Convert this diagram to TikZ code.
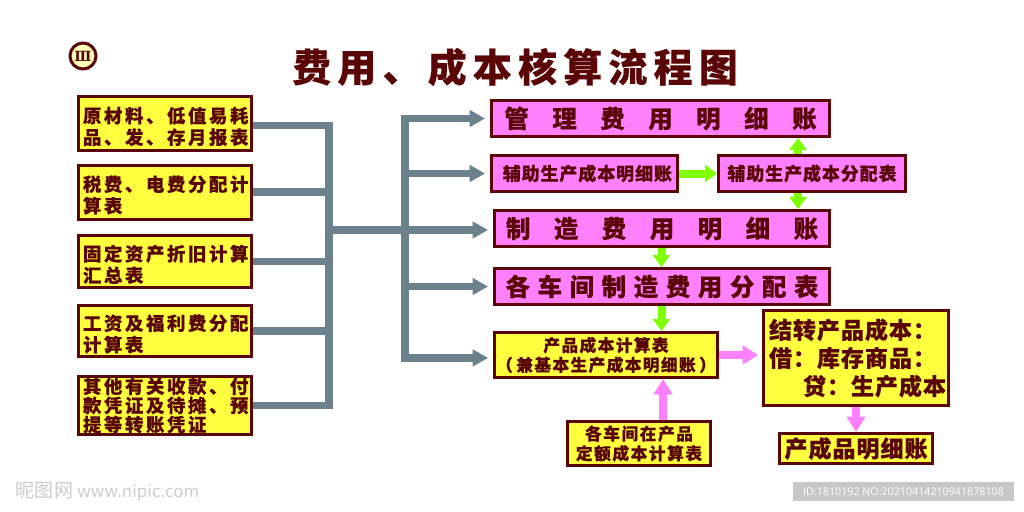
\documentclass[tikz,border=0pt]{standalone}
\usepackage{fontspec}
\usepackage{tikz}
\usetikzlibrary{arrows.meta}

\newfontfamily\cjk{Noto Sans CJK SC}
\newfontfamily\idfont{Open Sans}
\newfontfamily\badgefont{DejaVu Serif}
\newcommand{\cnfont}[3]{\cjk\bfseries\fontsize{#1pt}{#2pt}\selectfont\addfontfeature{LetterSpace=#3,FakeBold=0.25}}
\def\px{0.025cm}

\definecolor{boxline}{HTML}{5A0606}
\definecolor{boxyellow}{HTML}{FFFF40}
\definecolor{boxpink}{HTML}{FF80FF}
\definecolor{pipegray}{HTML}{6B818C}
\definecolor{arrowgreen}{HTML}{80FF00}

\tikzset{
    plainbox/.style={draw=boxline, line width=3*\px, inner sep=0pt, text=boxline},
    srcbox/.style={plainbox, fill=boxyellow, minimum width=173*\px, align=left, text width=164*\px, font=\cnfont{13.1}{15.3}{14}},
    acctbox/.style={plainbox, fill=boxpink, minimum height=36*\px, align=center},
    calcbox/.style={plainbox, fill=boxyellow, align=center},
    pipe/.style={draw=pipegray, line width=7.5*\px},
    pipearrow/.style={pipe, -{Triangle[width=11.5pt,length=11pt]}, shorten >=3.5pt},
    greenarrow/.style={draw=arrowgreen, line width=8*\px, -{Triangle[width=12pt,length=8.5pt]}},
    pinkarrow/.style={draw=boxpink, line width=8.5*\px, -{Triangle[width=13pt,length=11pt]}},
    lowtext/.style={execute at begin node={\rule{0pt}{15.5pt}}},
}

\begin{document}
\begin{tikzpicture}[x=\px, y=-\px]
    \useasboundingbox (0,0) rectangle (1024,512);

    % Title
    \node[circle, draw=boxline, line width=3*\px, fill=boxyellow!35, minimum size=26*\px, inner sep=0pt, text=boxline, font=\badgefont\bfseries\fontsize{10pt}{10pt}\selectfont] (badge) at (83,56) {Ⅲ};
    \node[text=boxline, font=\cnfont{27.7}{30}{16}] (title) at (515,67) {费用、成本核算流程图};

    % Source documents
    \node[srcbox, lowtext, minimum height=54*\px] (raw) at (165,123.5) {原材料、低值易耗\\品、发、存月报表};
    \node[srcbox, lowtext, minimum height=54*\px] (tax) at (165,192) {税费、电费分配计\\算表};
    \node[srcbox, lowtext, minimum height=52*\px] (asset) at (165,261.5) {固定资产折旧计算\\汇总表};
    \node[srcbox, lowtext, minimum height=51*\px] (wage) at (165,331) {工资及福利费分配\\计算表};
    \node[srcbox, minimum height=58*\px, font=\cnfont{13.1}{13.6}{14}] (other) at (165,405.5) {其他有关收款、付\\款凭证及待摊、预\\提等转账凭证};

    % Accounts
    \node[acctbox, minimum width=338*\px, font=\cnfont{17.4}{20}{96}] (mgmt) at (660.5,118.5) {管理费用明细账};
    \node[acctbox, minimum width=186*\px, font=\cnfont{12.8}{16}{5}] (auxa) at (584.5,173.5) {\hspace*{4pt}辅助生产成本明细账};
    \node[acctbox, minimum width=187*\px, font=\cnfont{12.8}{16}{5}] (auxb) at (812,173.5) {辅助生产成本分配表};
    \node[acctbox, minimum width=335*\px, font=\cnfont{17.4}{20}{96}] (mfg) at (662,228.5) {制造费用明细账};
    \node[acctbox, minimum width=335*\px, font=\cnfont{17.4}{20}{31}] (alloc) at (662,286.5) {各车间制造费用分配表};

    % Costing
    \node[calcbox, minimum width=223*\px, minimum height=45*\px, font=\cnfont{11.9}{14}{8}] (prod) at (606,355) {产品成本计算表\\（\hspace{2.5pt}兼基本生产成本明细账\hspace{2.5pt}）};
    \node[calcbox, minimum width=143*\px, minimum height=44*\px, font=\cnfont{11.9}{14}{9}] (norm) at (639,443.5) {各车间在产品\\定额成本计算表};
    \node[calcbox, minimum width=185*\px, minimum height=95*\px, align=left, text width=174*\px, font=\cnfont{16.4}{20}{4}] (carry) at (856,358) {结转产品成本：\\借：库存商品：\\\hspace*{0.85cm}贷：生产成本};
    \node[calcbox, minimum width=153*\px, minimum height=30*\px, font=\cnfont{16.4}{20}{4}] (done) at (856,448.5) {产成品明细账};

    % Pipes on the left
    \coordinate (busl) at (329,230);
    \coordinate (busr) at (405,230);
    \draw[pipe] ([yshift=-1.4pt]raw.east) -| (busl);
    \draw[pipe] (other.east) -| (busl);
    \draw[pipe] (tax.east) -- (tax.east -| busl);
    \draw[pipe] (asset.east) -- (asset.east -| busl);
    \draw[pipe] (wage.east) -- (wage.east -| busl);
    \draw[pipe] (busl) -- (busr);

    % Pipes to the accounts
    \draw[pipearrow] (busr) |- (mgmt.west);
    \draw[pipearrow] (busr) |- (auxa.west);
    \draw[pipearrow] (busr) -- (busr -| mfg.west);
    \draw[pipearrow] (busr) |- (alloc.west);
    \draw[pipearrow] (busr) |- ([yshift=-2.1pt]prod.west);

    % Green arrows
    \coordinate (upcol) at (798,173);
    \coordinate (downcol) at (661.5,290);
    \draw[greenarrow] (auxa.east) -- (auxb.west);
    \draw[greenarrow] (upcol |- auxb.north) -- (upcol |- mgmt.south);
    \draw[greenarrow] (upcol |- auxb.south) -- (upcol |- mfg.north);
    \draw[greenarrow] (downcol |- mfg.south) -- (downcol |- alloc.north);
    \draw[greenarrow] (downcol |- alloc.south) -- (downcol |- prod.north);

    % Pink arrows
    \coordinate (normcol) at (663,400);
    \draw[pinkarrow] (normcol |- norm.north) -- (normcol |- prod.south);
    \draw[pinkarrow, shorten >=2.8pt] (prod.east) -- (prod.east -| carry.west);
    \draw[pinkarrow] (carry.south -| done.north) -- (done.north);

    % Marks of the picture site
    \node[text=black!20, inner sep=0pt, font=\cjk\fontsize{13.6pt}{15pt}\selectfont] (sitemark) at (107.5,492) {昵图网\hspace{3pt}{\fontsize{12pt}{15pt}\selectfont www.nipic.com}};
    \node[fill=black!22, text=white, minimum width=221*\px, minimum height=19*\px, inner sep=0pt, font=\idfont\fontsize{7.6pt}{10pt}\selectfont] (idstrip) at (903.5,491.5) {ID:1810192 NO:20210414210941878108};
\end{tikzpicture}
\end{document}
